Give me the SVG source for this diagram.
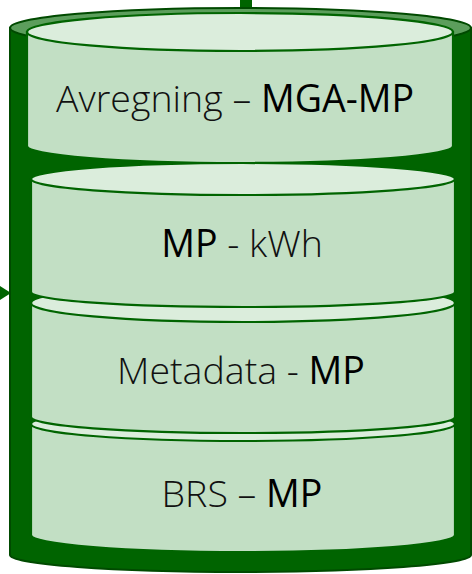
<svg xmlns="http://www.w3.org/2000/svg" width="472" height="574" viewBox="0 0 472 574">
<style>
.outer-body{fill:#006400;stroke:#004a00;stroke-width:2}
.outer-top{fill:#5c9e5c;stroke:#004a00;stroke-width:2}
.disc-body{fill:#c2dfc4;stroke:#006400;stroke-width:2.2}
.disc-top{fill:#dbeddc;stroke:#006400;stroke-width:2.2}
.lbl{font-family:"Open Sans","Liberation Sans",Arial,sans-serif;font-size:37.5px;font-weight:300;fill:#111;text-anchor:middle}
.b{font-weight:500;fill:#000}
.conn{fill:#006400;stroke:none}
</style>
<g id="connectors">
<rect class="conn" x="240" y="0" width="12" height="10"/>
<polygon class="conn" points="0,286 11,293 0,300"/>
</g>
<g id="storage">
<path class="outer-body" d="M10,28 V555 A230.5,17 0 0 0 471,555 V28 Z"/>
<ellipse class="outer-top" cx="240.5" cy="28" rx="230.5" ry="20"/>
</g>
<g id="brs">
<path class="disc-body" d="M31,424 V535 A212,17 0 0 0 455,535 V424 Z"/>
<ellipse class="disc-top" cx="243" cy="424" rx="212" ry="17"/>
<text class="lbl" x="242" y="507">BRS – <tspan class="b">MP</tspan></text>
</g>
<g id="metadata">
<path class="disc-body" d="M31,303 V417 A212,16 0 0 0 455,417 V303 Z"/>
<ellipse class="disc-top" cx="243" cy="303" rx="212" ry="19"/>
<text class="lbl" x="241" y="384">Metadata - <tspan class="b">MP</tspan></text>
</g>
<g id="mp-kwh">
<path class="disc-body" d="M31,179 V292 A212,15 0 0 0 455,292 V179 Z"/>
<ellipse class="disc-top" cx="243" cy="179" rx="212" ry="16"/>
<text class="lbl" x="242" y="257"><tspan class="b">MP</tspan> - kWh</text>
</g>
<g id="avregning">
<path class="disc-body" d="M27,32 V146 A213,17 0 0 0 453,146 V32 Z"/>
<ellipse class="disc-top" cx="240" cy="32" rx="213" ry="19"/>
<text class="lbl" x="235" y="112">Avregning – <tspan class="b">MGA-MP</tspan></text>
</g>
</svg>
